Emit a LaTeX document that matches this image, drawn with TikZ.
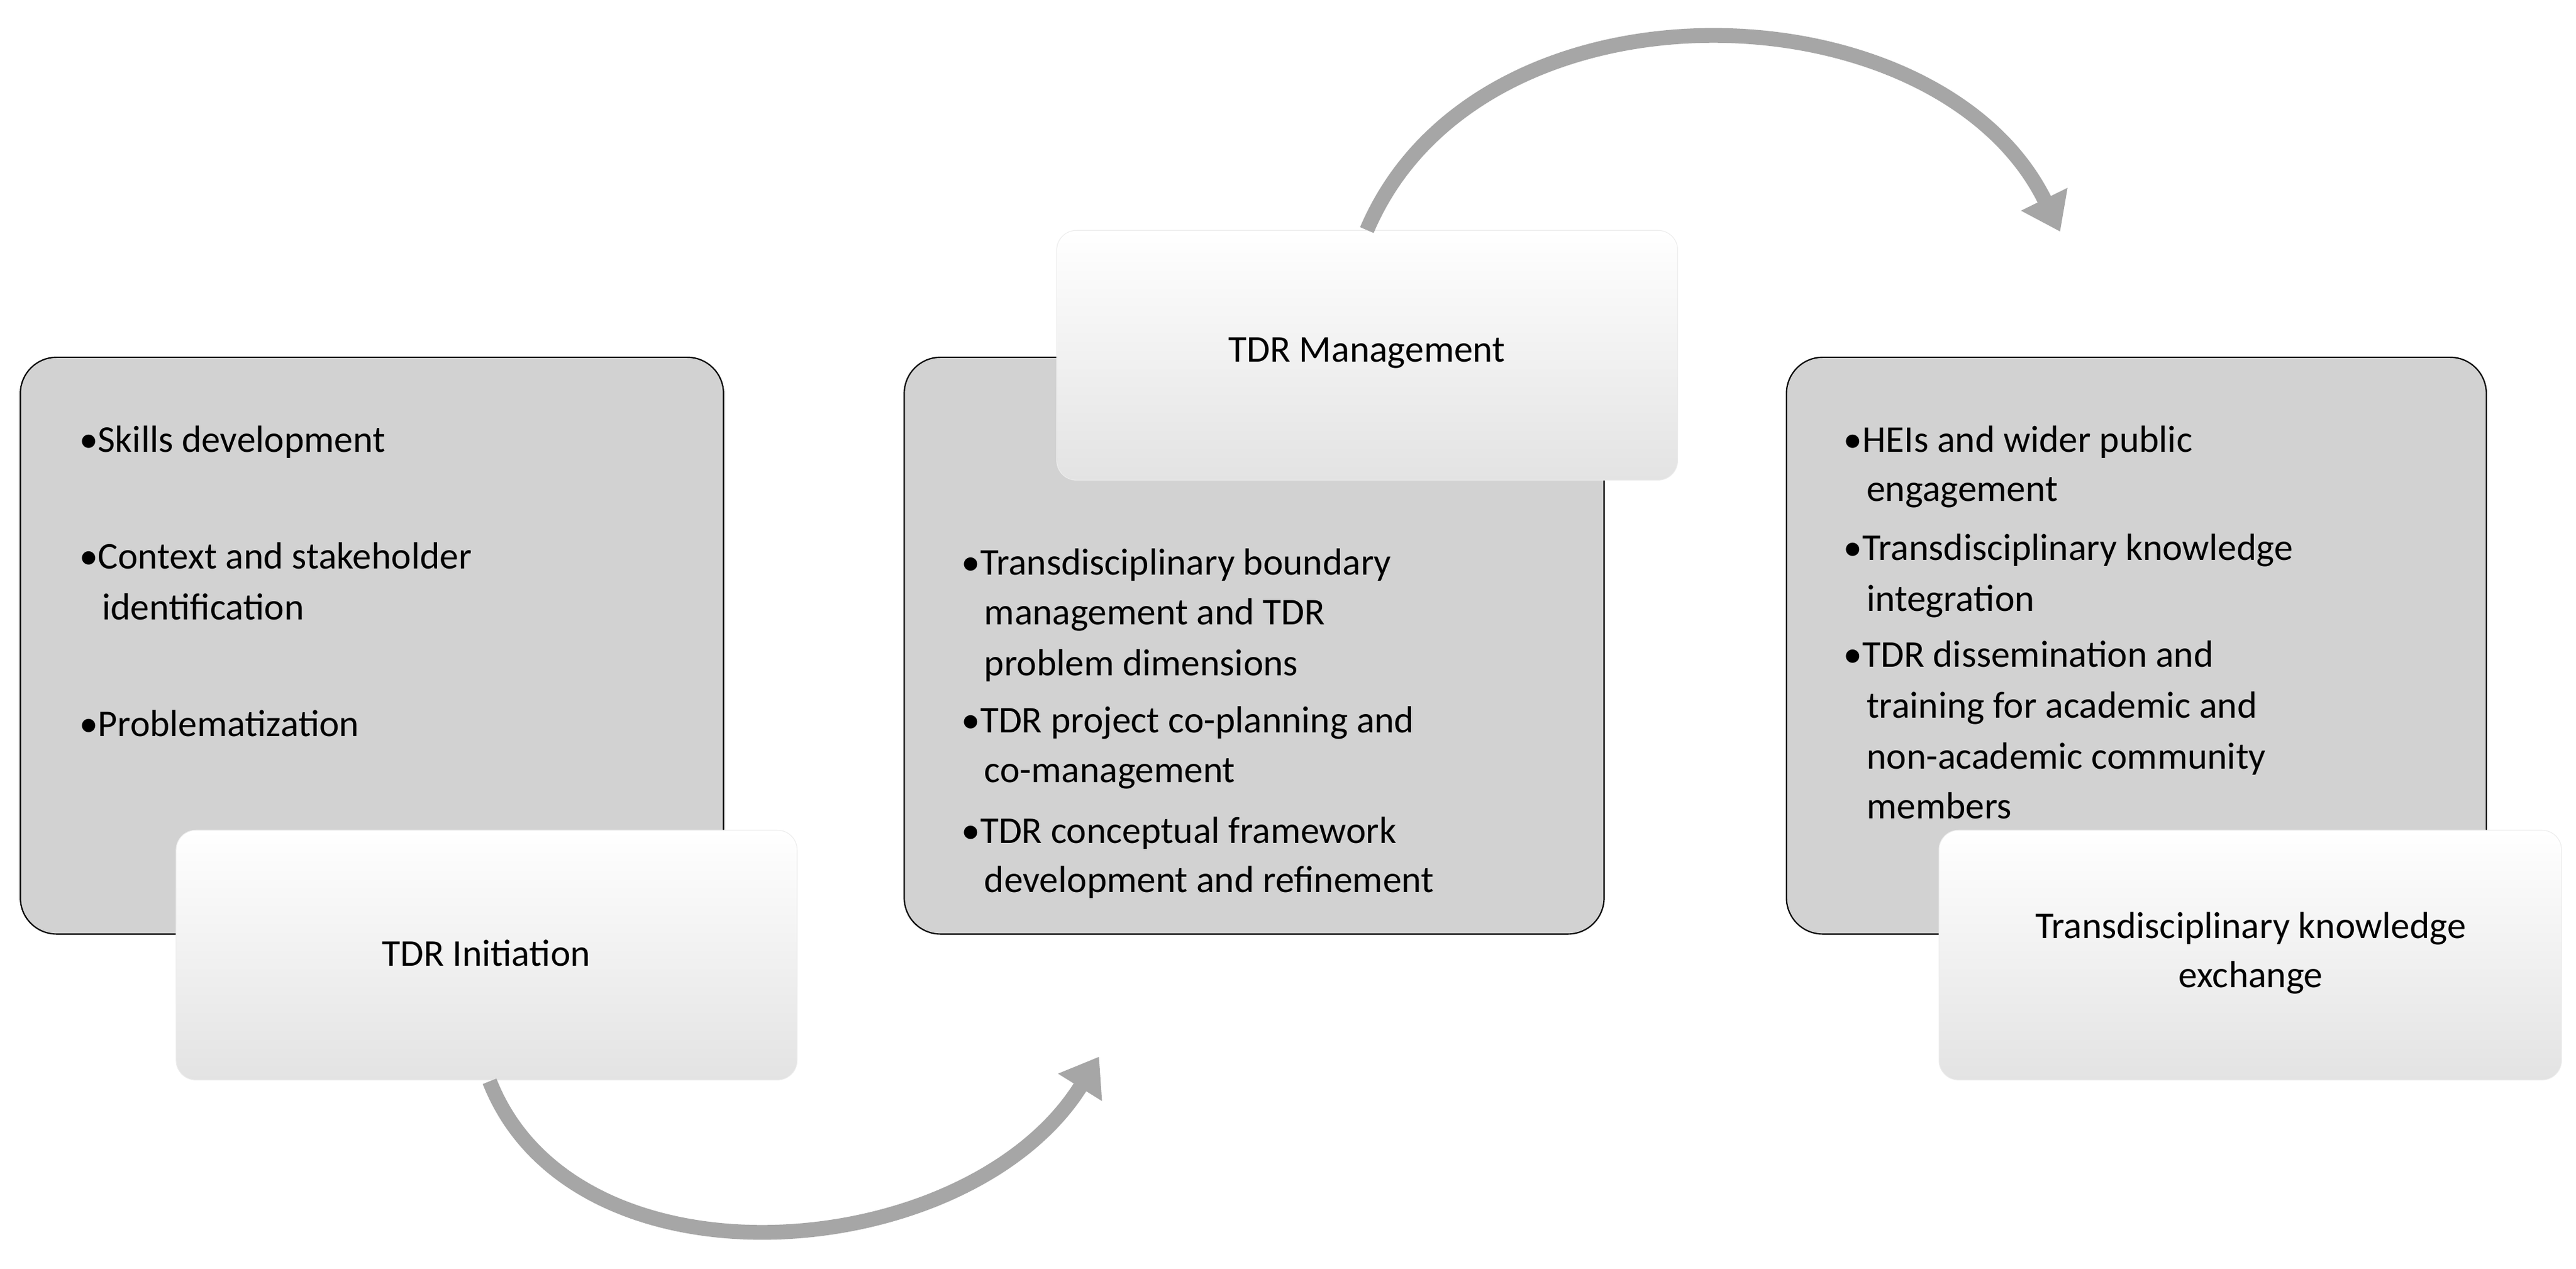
\documentclass[tikz,border=0pt]{standalone}
\usepackage{fontspec}
\setmainfont{Carlito}
\usetikzlibrary{arrows.meta}
\begin{document}
\begin{tikzpicture}[x=1pt,y=-1pt,
  bigbox/.style={draw=black,line width=0.8pt,fill=gray!35,rounded corners=22pt},
  labelbox/.style={rounded corners=12pt,top color=white,bottom color=gray!22,draw=gray!15},
  txt/.style={anchor=base west,inner sep=0pt,font=\fontsize{23}{28}\selectfont},
  ttl/.style={inner sep=0pt,align=center,font=\fontsize{23}{30}\selectfont},
  flow/.style={line width=9pt,draw=gray!70,-{Triangle[length=22pt,width=30pt]}}]
\useasboundingbox (0,0) rectangle (1568,772);
\fill[white] (0,0) rectangle (1568,772);
\node[bigbox,minimum width=428pt,minimum height=351pt,anchor=north west] (b1) at (12,217) {};
\node[bigbox,minimum width=426pt,minimum height=351pt,anchor=north west] (b2) at (550,217) {};
\node[bigbox,minimum width=426pt,minimum height=351pt,anchor=north west] (b3) at (1087,217) {};
\node[labelbox,minimum width=378pt,minimum height=152pt,anchor=north west] (l1) at (107,505) {};
\node[labelbox,minimum width=378pt,minimum height=152pt,anchor=north west] (l2) at (643,140) {};
\node[labelbox,minimum width=379pt,minimum height=152pt,anchor=north west] (l3) at (1180,505) {};
\node[ttl] (t1) at (296,580) {TDR Initiation};
\node[ttl] (t2) at (832,215) {TDR Management};
\node[ttl] (t3) at (1370,580) {Transdisciplinary knowledge\\exchange};
% box 1
\node[txt] (a1) at (48,275) {•Skills development};
\node[txt] (a2) at (48,346) {•Context and stakeholder};
\node[txt] (a3) at (62,377) {identification};
\node[txt] (a4) at (48,448) {•Problematization};
% box 2
\node[txt] (c1) at (585,350) {•Transdisciplinary boundary};
\node[txt] (c2) at (599,380) {management and TDR};
\node[txt] (c3) at (599,411) {problem dimensions};
\node[txt] (c4) at (585,446) {•TDR project co-planning and};
\node[txt] (c5) at (599,476) {co-management};
\node[txt] (c6) at (585,513) {•TDR conceptual framework};
\node[txt] (c7) at (599,543) {development and refinement};
% box 3
\node[txt] (d1) at (1122,275) {•HEIs and wider public};
\node[txt] (d2) at (1136,305) {engagement};
\node[txt] (d3) at (1122,341) {•Transdisciplinary knowledge};
\node[txt] (d4) at (1136,372) {integration};
\node[txt] (d5) at (1122,406) {•TDR dissemination and};
\node[txt] (d6) at (1136,437) {training for academic and};
\node[txt] (d7) at (1136,468) {non-academic community};
\node[txt] (d8) at (1136,498) {members};
% arrows
\coordinate (s1) at (298,658);
\coordinate (e1) at (669,643);
\coordinate (s2) at (832,140);
\coordinate (e2) at (1254,141);
\draw[flow] (s1) .. controls (350,790) and (590,770) .. (e1);
\draw[flow] (s2) .. controls (900,-20) and (1180,-10) .. (e2);
\end{tikzpicture}
\end{document}
